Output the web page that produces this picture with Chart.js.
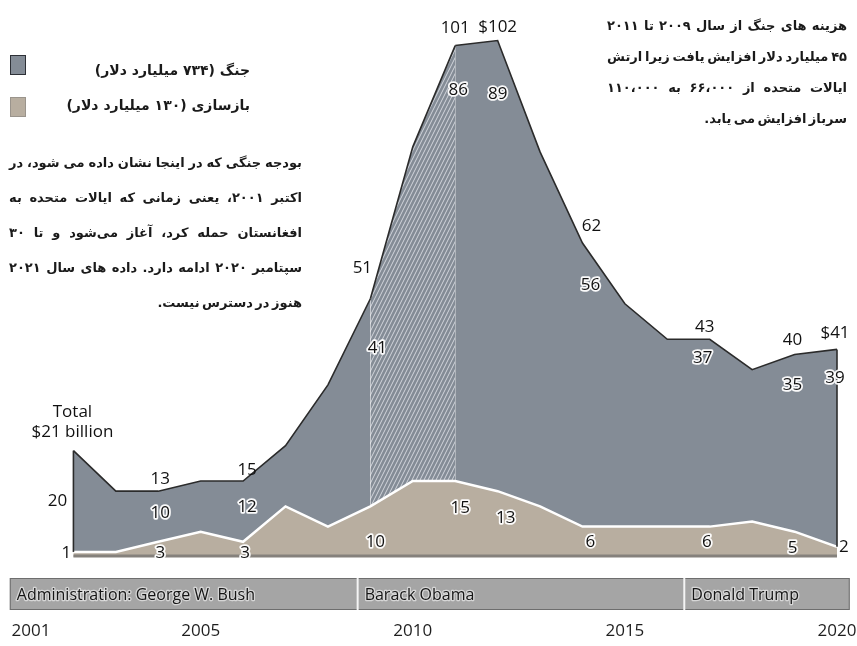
<!DOCTYPE html>
<html>
<head>
<meta charset="utf-8">
<script src="https://cdn.jsdelivr.net/npm/chart.js@4.4.1/dist/chart.umd.min.js"></script>
<style>
  html, body { margin: 0; padding: 0; background: #fff; }
  #wrap { position: relative; width: 857px; height: 646px; overflow: hidden; }
  #chart { position: absolute; left: 0; top: 0; }
  .fa { position: absolute; direction: rtl; font-family: "DejaVu Sans", sans-serif; font-weight: bold; font-size: 13px; color: #1a1a1a; white-space: nowrap; }
  .fa div { text-align: justify; text-align-last: justify; }
  .fa div.last { text-align-last: start; }
  .sw { position: absolute; left: 10px; width: 16px; height: 20px; box-sizing: border-box; }
</style>
</head>
<body>
<div id="wrap">
  <canvas id="chart" width="857" height="646"></canvas>

  <div class="sw" style="top:55px;background:#848c96;border:1.5px solid #2d3036;"></div>
  <div class="sw" style="top:97px;background:#b8aea0;border:1px solid #9a948c;"></div>
  <div class="fa" style="right:607px;top:60px;font-size:14px;line-height:20px;">جنگ (۷۳۴ میلیارد دلار)</div>
  <div class="fa" style="right:607px;top:95px;font-size:14px;line-height:20px;">بازسازی (۱۳۰ میلیارد دلار)</div>

  <div class="fa" style="left:9px;width:293px;top:145px;line-height:35px;word-spacing:-2px;">
    <div>بودجه جنگی که در اینجا نشان داده می شود، در</div>
    <div>اکتبر ۲۰۰۱، یعنی زمانی که ایالات متحده به</div>
    <div>افغانستان حمله کرد، آغاز می‌شود و تا ۳۰</div>
    <div>سپتامبر ۲۰۲۰ ادامه دارد. داده های سال ۲۰۲۱</div>
    <div class="last">هنوز در دسترس نیست.</div>
  </div>

  <div class="fa" style="left:607px;width:240px;top:10px;line-height:31px;word-spacing:-2px;">
    <div>هزینه های جنگ از سال ۲۰۰۹ تا ۲۰۱۱</div>
    <div>۴۵ میلیارد دلار افزایش یافت زیرا ارتش</div>
    <div>ایالات متحده از ۶۶،۰۰۰ به ۱۱۰،۰۰۰</div>
    <div class="last">سرباز افزایش می یابد.</div>
  </div>
</div>

<script>
// fiscal years, billions of dollars
const years = [2002, 2003, 2004, 2005, 2006, 2007, 2008, 2009, 2010, 2011, 2012, 2013, 2014, 2015, 2016, 2017, 2018, 2019, 2020];
const war = [20, 12, 10, 10, 12, 12, 28, 41, 66, 86, 89, 70, 56, 44, 37, 37, 30, 35, 39];
const recon = [1, 1, 3, 5, 3, 10, 6, 10, 15, 15, 13, 10, 6, 6, 6, 6, 7, 5, 2];
const tickYears = [2001, 2005, 2010, 2015, 2020];
const labelYears = [2004, 2006, 2009, 2011, 2012, 2014, 2017, 2019, 2020];
const dollarYears = [2012, 2020];
const hatchYears = [2009, 2011];
const adminNames = ['Administration: George W. Bush', 'Barack Obama', 'Donald Trump'];
const adminStart = [2000.5, 2008.7, 2016.4];
const adminEnd = 2020.3;

const total = years.map((y, i) => war[i] + recon[i]);

const warColor = '#848c96';
const reconColor = '#b8aea0';
const numFont = '17px "Open Sans"';

// label nudges [dx, dy] from the point they describe
const totalOff = {2004: [2, -12], 2006: [4, -11], 2009: [-8, -31], 2011: [0, -17], 2012: [0, -13], 2014: [9, -17], 2017: [-5, -12], 2019: [-2, -14], 2020: [-2, -16]};
const warOff = {2004: [2, 22], 2006: [4, 26], 2009: [7, 49], 2011: [3, 45], 2012: [0, 54], 2014: [8, 42], 2017: [-7, 19], 2019: [-2, 31], 2020: [-2, 29]};
const reconOff = {2004: [2, 11], 2006: [2, 11], 2009: [5, 36], 2011: [5, 27], 2012: [8, 27], 2014: [8, 16], 2017: [-3, 16], 2019: [-2, 16], 2020: [8, 0]};

function hatch(base) {
  const c = document.createElement('canvas');
  c.width = 4; c.height = 8;
  const g = c.getContext('2d');
  g.fillStyle = base;
  g.fillRect(0, 0, 4, 8);
  g.strokeStyle = 'rgba(236,239,243,0.75)';
  g.lineWidth = 1;
  g.beginPath();
  for (const o of [-4, 0, 4]) { g.moveTo(o, 8); g.lineTo(o + 4, 0); }
  g.stroke();
  return g.createPattern(c, 'repeat');
}
const hatchFill = hatch(warColor);

function text(ctx, s, x, y, halo) {
  if (halo) {
    ctx.lineJoin = 'round';
    ctx.lineWidth = 3.5;
    ctx.strokeStyle = 'rgba(255,255,255,0.95)';
    ctx.strokeText(s, x, y);
  }
  ctx.fillStyle = '#111';
  ctx.fillText(s, x, y);
}

const decor = {
  id: 'decor',
  afterDatasetsDraw(chart) {
    const {ctx, scales: {x, y}} = chart;
    const last = years.length - 1;
    ctx.save();
    // baseline under the tan area
    ctx.strokeStyle = '#85817c';
    ctx.lineWidth = 3;
    ctx.beginPath();
    ctx.moveTo(x.getPixelForValue(years[0]), y.getPixelForValue(0) - 1);
    ctx.lineTo(x.getPixelForValue(years[last]), y.getPixelForValue(0) - 1);
    ctx.stroke();
    // side edges
    ctx.strokeStyle = '#2b2b2b';
    ctx.lineWidth = 1.6;
    for (const i of [0, last]) {
      const px = x.getPixelForValue(years[i]);
      ctx.beginPath();
      ctx.moveTo(px, y.getPixelForValue(total[i]));
      ctx.lineTo(px, y.getPixelForValue(recon[i]));
      ctx.stroke();
    }
    ctx.restore();
  },
  afterDraw(chart) {
    const {ctx, scales: {x, y}} = chart;
    ctx.save();

    // administration band
    const top = 578, h = 32;
    const x0 = x.getPixelForValue(adminStart[0]);
    const x1 = x.getPixelForValue(adminEnd);
    ctx.fillStyle = '#a5a5a5';
    ctx.fillRect(x0, top, x1 - x0, h);
    ctx.strokeStyle = '#6e6e6e';
    ctx.lineWidth = 1;
    ctx.strokeRect(x0 + 0.5, top + 0.5, x1 - x0 - 1, h - 1);
    ctx.font = '16px "Open Sans"';
    ctx.textAlign = 'left';
    ctx.textBaseline = 'middle';
    adminNames.forEach((name, i) => {
      const px = x.getPixelForValue(adminStart[i]);
      if (i > 0) {
        ctx.strokeStyle = '#f4f4f4';
        ctx.lineWidth = 2;
        ctx.beginPath();
        ctx.moveTo(px, top);
        ctx.lineTo(px, top + h);
        ctx.stroke();
      }
      ctx.lineWidth = 2.5;
      ctx.strokeStyle = 'rgba(255,255,255,0.55)';
      ctx.lineJoin = 'round';
      ctx.strokeText(name, px + 7, top + h / 2 + 1);
      ctx.fillStyle = '#151515';
      ctx.fillText(name, px + 7, top + h / 2 + 1);
    });

    // value labels
    ctx.font = numFont;
    ctx.textAlign = 'center';
    ctx.textBaseline = 'middle';
    labelYears.forEach(yr => {
      const i = years.indexOf(yr);
      const px = x.getPixelForValue(yr);
      const pt = y.getPixelForValue(total[i]);
      const pr = y.getPixelForValue(recon[i]);
      let o = totalOff[yr];
      text(ctx, (dollarYears.includes(yr) ? '$' : '') + total[i], px + o[0], pt + o[1], false);
      o = warOff[yr];
      text(ctx, String(war[i]), px + o[0], pt + o[1], true);
      o = reconOff[yr];
      if (i === years.length - 1) {
        ctx.textAlign = 'left';
        text(ctx, String(recon[i]), px + 2, pr + o[1], false);
        ctx.textAlign = 'center';
      } else {
        text(ctx, String(recon[i]), px + o[0], pr + o[1], true);
      }
    });

    // first year: total caption and side values
    const px = x.getPixelForValue(years[0]);
    const pt = y.getPixelForValue(total[0]);
    text(ctx, 'Total', px - 1, pt - 39, false);
    text(ctx, '$' + total[0] + ' billion', px - 1, pt - 19, false);
    text(ctx, String(war[0]), px - 16, pt + 50, false);
    text(ctx, String(recon[0]), px - 7, y.getPixelForValue(recon[0]) + 1, false);
    ctx.restore();
  }
};

new Chart(document.getElementById('chart'), {
  type: 'line',
  data: {
    datasets: [
      {
        label: 'بازسازی',
        data: years.map((yr, i) => ({x: yr, y: recon[i]})),
        fill: 'origin',
        backgroundColor: reconColor,
        borderColor: '#ffffff',
        borderWidth: 2.5,
        pointRadius: 0,
        tension: 0
      },
      {
        label: 'جنگ',
        data: years.map((yr, i) => ({x: yr, y: war[i]})),
        fill: '-1',
        backgroundColor: warColor,
        borderColor: '#2b2b2b',
        borderWidth: 1.6,
        pointRadius: 0,
        tension: 0,
        segment: {
          backgroundColor: s => (s.p0.parsed.x >= hatchYears[0] && s.p1.parsed.x <= hatchYears[1]) ? hatchFill : warColor
        }
      }
    ]
  },
  options: {
    responsive: false,
    animation: false,
    layout: {padding: {left: 31, right: 20, top: 0, bottom: 5}},
    plugins: {legend: {display: false}, tooltip: {enabled: false}},
    scales: {
      x: {
        type: 'linear',
        min: 2001,
        max: 2020,
        grid: {display: false, drawTicks: false},
        border: {display: false},
        afterBuildTicks: s => { s.ticks = tickYears.map(v => ({value: v})); },
        afterFit: s => { s.height = 84; s.paddingLeft = 0; s.paddingRight = 20; },
        ticks: {
          padding: 64,
          autoSkip: false,
          maxRotation: 0,
          color: '#1e1e1e',
          font: {family: 'Open Sans', size: 17},
          callback: v => String(v)
        }
      },
      y: {stacked: true, display: false, min: 0, max: 110}
    }
  },
  plugins: [decor]
});
</script>
</body>
</html>
